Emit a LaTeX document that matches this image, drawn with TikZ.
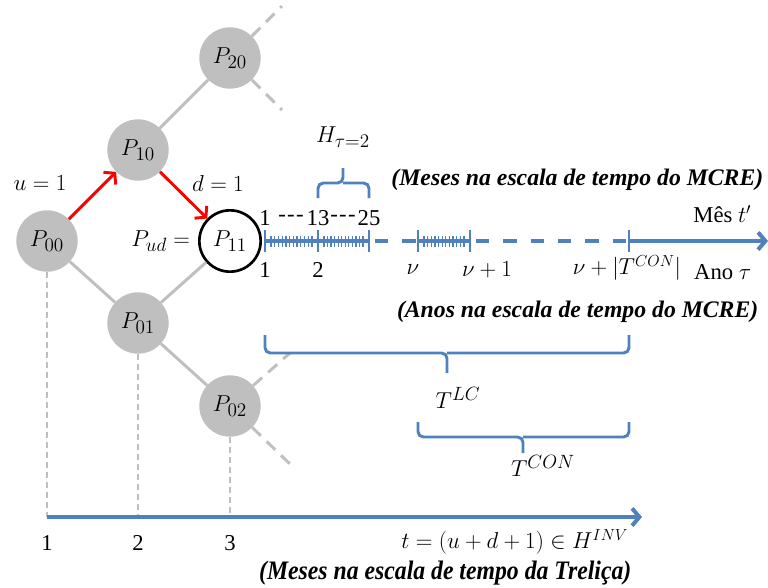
\documentclass[tikz,border=0pt]{standalone}
\usepackage{fontspec}
\setmainfont{Liberation Serif}
\usetikzlibrary{arrows.meta}
\definecolor{axblue}{RGB}{79,129,189}
\definecolor{nodegray}{RGB}{191,191,191}

\begin{document}
\begin{tikzpicture}[x=0.75pt, y=-0.75pt, font=\fontsize{17}{20}\selectfont,
      >={Straight Barb[length=5.5pt, width=13pt]},
      lat/.style={circle, fill=nodegray, minimum size=46pt, inner sep=0pt,
                  font=\fontsize{19}{22}\selectfont},
      cur/.style={lat, fill=white, draw=black, line width=2pt},
      link/.style={draw=nodegray, line width=2.2pt},
      stub/.style={link, dash pattern=on 9pt off 6pt},
      drop/.style={draw=nodegray, line width=1.4pt, dash pattern=on 4.5pt off 3pt},
      move/.style={draw=red, line width=2.2pt, ->},
      axis/.style={draw=axblue, line width=3pt},
      gap/.style={axis, dash pattern=on 10pt off 10.5pt, dash phase=16pt},
      tick/.style={draw=axblue, line width=2pt},
      mtick/.style={draw=axblue, line width=0.9pt},
      brc/.style={draw=axblue, line width=2.2pt, rounded corners=4pt},
      ttl/.style={font=\fontsize{17.8}{20}\selectfont\bfseries\itshape}]
    \useasboundingbox[fill=white] (0,0) rectangle (768,587);

    % lattice
    \node[lat] (p00) at (47,241)  {$P_{00}$};
    \node[lat] (p10) at (138,150) {$P_{10}$};
    \node[lat] (p20) at (230,58)  {$P_{20}$};
    \node[lat] (p01) at (138,323) {$P_{01}$};
    \node[lat] (p02) at (230,406) {$P_{02}$};
    \node[cur] (p11) at (230,241) {$P_{11}$};
    \node[anchor=east, inner sep=1pt, font=\fontsize{19}{22}\selectfont] (pud) at (p11.west) {$P_{ud}={}$};
    \draw[link] (p10) -- (p20);
    \draw[link] (p00) -- (p01);
    \draw[link] (p01) -- (p11);
    \draw[link] (p01) -- (p02);
    \coordinate (s20a) at (282,6);
    \coordinate (s20b) at (282,110);
    \coordinate (s02a) at (290,353);
    \coordinate (s02b) at (290,464);
    \draw[stub] (p20) -- (s20a);
    \draw[stub] (p20) -- (s20b);
    \draw[stub] (p02) -- (s02a);
    \draw[stub] (p02) -- (s02b);
    \draw[move] (p00) -- (p10);
    \draw[move] (p10) -- (p11);
    \node[font=\fontsize{19}{22}\selectfont] (lu) at (40,183)  {$u=1$};
    \node[font=\fontsize{19}{22}\selectfont] (ld) at (218,183) {$d=1$};

    % trellis months
    \coordinate (b1) at (47,517);
    \coordinate (b2) at (138,517);
    \coordinate (b3) at (230,517);
    \coordinate (bend) at (642,517);
    \draw[drop] (p00) -- (b1);
    \draw[drop] (p01) -- (b2);
    \draw[drop] (p02) -- (b3);
    \draw[axis, ->] (b1) -- (bend);
    \node (n1) at (47,543)  {1};
    \node (n2) at (138,543) {2};
    \node (n3) at (230,543) {3};
    \node[anchor=east] (tinv) at (633,542) {$t=(u+d+1)\in H^{INV}$};
    \node[anchor=east, ttl, font=\fontsize{20}{22}\selectfont\bfseries\itshape] (trel) at (636,573)
         {\scalebox{0.89}[1]{(Meses na escala de tempo da Treliça)}};

    % MCRE axis
    \coordinate (m1)  at (265,241);
    \coordinate (m13) at (318,241);
    \coordinate (m25) at (369,241);
    \coordinate (nu)  at (418,241);
    \coordinate (nu1) at (470,241);
    \coordinate (nuT) at (629,241);
    \coordinate (tend) at (768,241);
    \draw[axis] (m1) -- (m25);
    \draw[gap]  (m25) -- (nu);
    \draw[axis] (nu) -- (nu1);
    \draw[gap]  (nu1) -- (nuT);
    \draw[axis, ->] (nuT) -- (tend);
    \foreach \c in {m1, m13, m25, nu, nu1, nuT}
      \draw[tick] ([yshift=-8.3pt]\c) -- ([yshift=8.3pt]\c);
    \foreach \a/\b in {265/318, 318/369, 418/470}
      \foreach \k in {0,...,11}
        \draw[mtick] ({\a+6+(\b-\a-12)*\k/11},236) -- ++(0,11);

    \node (t1)  at (265,218) {1};
    \node (t13) at (318,218) {13};
    \node (t25) at (369,218) {25};
    \node (d1)  at (291,218) {\mbox{-\kern1pt-\kern1pt-}};
    \node (d2)  at (343,218) {\mbox{-\kern1pt-\kern1pt-}};
    \node (y1)  at (265,270) {1};
    \node (y2)  at (318,270) {2};
    \node (ynu) at (413,270) {$\nu$};
    \node (ynu1) at (487,270) {$\nu+1$};
    \node (ynuT) at (627,268) {$\nu+|T^{CON}|$};
    \node[anchor=east] (ano) at (756,272) {Ano $\tau$};
    \node[anchor=east] (mes) at (756,214) {Mês $t'$};
    \node[anchor=east, ttl] (mcrem) at (768,180) {(Meses na escala de tempo do MCRE)};
    \node[anchor=east, ttl] (mcrea) at (763,312) {(Anos na escala de tempo do MCRE)};

    % braces
    \draw[brc] (318,198) |- (343,183) -- (343,168);
    \draw[brc] (343,183) -| (369,198);
    \node[font=\fontsize{19}{22}\selectfont] (h2) at (343,137) {$H_{\tau=2}$};
    \draw[brc] (265,335) |- (447,353) -- (447,373);
    \draw[brc] (447,353) -| (629,335);
    \node[font=\fontsize{19}{22}\selectfont] (tlc) at (458,398) {$T^{LC}$};
    \draw[brc] (418,422) |- (523,437) -- (523,453);
    \draw[brc] (523,437) -| (629,422);
    \node[font=\fontsize{19}{22}\selectfont] (tcon) at (543,466) {$T^{CON}$};
  \end{tikzpicture}
\end{document}
